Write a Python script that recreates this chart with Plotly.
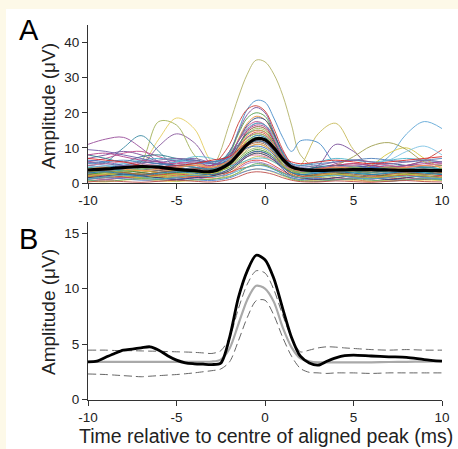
import plotly.graph_objects as go

W, H = 458, 449

# ---------------- Panel A data (individual aligned traces, μV) ----------------
x_a = [-10, -9, -8, -7, -6, -5, -4, -3, -2, -1.5, -1, -0.5, 0, 0.5, 1, 1.5, 2, 3, 4, 5, 6, 7, 8, 9, 10]

a01 = [3.0, 2.5, 3.2, 3.5, 3.0, 2.6, 3.0, 4.5, 17.0, 24.5, 31.0, 35.0, 34.5, 31.0, 25.0, 16.5, 8.0, 4.0, 3.2, 3.5, 3.0, 3.4, 2.8, 3.5, 3.0]
a02 = [1.5, 2.0, 2.5, 2.0, 1.5, 2.0, 2.5, 2.0, 3.5, 5.0, 6.5, 7.5, 7.2, 6.0, 4.5, 4.0, 5.0, 14.0, 17.0, 9.5, 4.5, 3.5, 4.0, 3.0, 2.5]
a03 = [6.0, 5.0, 4.5, 5.0, 5.5, 4.5, 4.0, 4.5, 9.0, 15.0, 21.0, 23.5, 23.0, 18.5, 13.0, 9.0, 12.0, 11.5, 5.5, 5.0, 4.5, 5.0, 4.0, 4.5, 4.0]
a04 = [4.0, 3.5, 3.0, 3.5, 4.0, 3.5, 3.0, 3.5, 6.0, 9.0, 12.0, 13.5, 13.0, 10.5, 7.0, 4.5, 3.5, 3.0, 3.5, 4.0, 4.5, 7.5, 14.0, 17.5, 15.5]
a05 = [3.0, 3.5, 4.0, 5.0, 10.5, 14.0, 11.5, 5.5, 6.0, 8.0, 10.5, 12.0, 11.5, 9.5, 6.5, 4.0, 3.0, 3.5, 4.0, 3.5, 3.0, 3.5, 4.0, 3.5, 3.0]
a06 = [2.5, 3.0, 3.5, 6.0, 17.5, 16.5, 8.0, 4.0, 5.0, 7.0, 9.5, 11.0, 10.5, 8.5, 6.0, 4.0, 3.0, 2.5, 3.0, 3.5, 3.0, 2.5, 3.0, 3.5, 3.0]
a07 = [2.0, 2.5, 3.0, 5.0, 12.5, 18.5, 15.5, 6.0, 4.0, 5.5, 7.5, 8.5, 8.0, 6.5, 4.5, 3.5, 3.0, 3.5, 4.0, 3.0, 2.5, 3.0, 3.5, 3.0, 2.5]
a08 = [5.0, 6.0, 10.0, 13.5, 9.0, 4.5, 4.0, 5.0, 6.5, 9.0, 12.0, 13.5, 13.0, 10.5, 7.0, 4.5, 3.5, 4.0, 3.5, 4.0, 4.5, 4.0, 3.5, 4.0, 3.5]
a09 = [11.0, 12.5, 13.0, 10.0, 6.0, 4.5, 5.0, 4.0, 7.0, 10.5, 15.0, 17.0, 16.5, 13.5, 9.0, 5.5, 4.0, 3.5, 4.0, 4.5, 4.0, 3.5, 3.0, 3.5, 4.0]
a10 = [4.0, 3.5, 4.5, 5.0, 4.0, 3.5, 4.0, 5.0, 11.0, 17.0, 21.0, 22.0, 20.5, 15.5, 9.5, 5.5, 4.0, 4.5, 5.0, 5.5, 5.0, 4.5, 5.0, 6.5, 9.5]
a11 = [7.0, 8.0, 9.0, 8.0, 6.0, 5.0, 4.5, 4.0, 9.0, 14.5, 19.5, 21.5, 20.0, 14.5, 8.5, 5.0, 3.5, 5.0, 11.0, 9.0, 4.5, 4.0, 3.5, 3.5, 4.0]
a12 = [3.0, 3.5, 3.0, 2.5, 3.0, 3.5, 3.0, 3.5, 8.5, 14.0, 18.5, 20.0, 19.0, 14.0, 8.0, 4.0, 2.5, 3.0, 2.5, 3.0, 3.5, 3.0, 2.5, 3.0, 3.5]
a13 = [2.0, 2.5, 3.0, 3.5, 3.0, 2.5, 2.0, 3.0, 7.0, 12.5, 17.0, 19.0, 18.0, 13.5, 8.0, 4.5, 3.0, 2.5, 3.0, 3.5, 3.0, 2.5, 3.0, 2.5, 2.0]
a14 = [5.0, 4.5, 5.0, 6.0, 5.5, 5.0, 4.5, 4.0, 7.5, 12.0, 16.5, 18.5, 18.0, 14.0, 8.5, 5.0, 4.0, 4.5, 5.0, 4.5, 5.0, 5.5, 5.0, 4.5, 5.0]
a15 = [6.0, 7.0, 8.5, 9.0, 7.5, 6.0, 5.5, 5.0, 8.0, 12.0, 16.0, 17.5, 16.5, 12.0, 7.0, 4.5, 3.5, 4.0, 5.5, 6.5, 6.0, 5.0, 4.5, 5.0, 5.5]
a16 = [4.0, 4.5, 5.5, 6.5, 7.0, 6.5, 6.0, 5.5, 8.5, 12.0, 15.5, 17.0, 16.5, 13.0, 8.5, 5.5, 5.0, 6.0, 7.0, 6.5, 6.0, 6.5, 7.0, 6.5, 6.0]
a17 = [3.5, 3.0, 2.5, 3.0, 3.5, 4.0, 3.5, 3.0, 6.5, 10.5, 14.5, 16.0, 15.5, 12.0, 7.0, 3.5, 2.5, 2.0, 2.5, 3.0, 2.5, 2.0, 2.5, 3.0, 2.5]
a18 = [1.5, 2.0, 2.5, 2.0, 1.5, 2.0, 2.5, 3.0, 6.0, 10.0, 14.0, 15.5, 15.0, 11.5, 7.0, 3.5, 2.0, 1.5, 2.0, 2.5, 2.0, 1.5, 2.0, 2.5, 2.0]
a19 = [8.0, 7.0, 6.0, 7.5, 8.0, 7.0, 6.5, 6.0, 8.0, 11.0, 14.0, 15.0, 14.5, 11.5, 7.5, 5.0, 4.0, 4.5, 5.0, 4.5, 4.0, 4.5, 5.0, 4.5, 4.0]
a20 = [2.5, 2.0, 1.5, 2.0, 2.5, 2.0, 1.5, 2.0, 5.5, 9.5, 13.0, 14.5, 14.0, 11.0, 6.5, 3.0, 2.0, 1.5, 1.0, 1.5, 2.0, 1.5, 1.0, 1.5, 2.0]
a21 = [9.5, 9.0, 8.0, 7.0, 6.0, 6.5, 7.0, 6.0, 7.5, 10.5, 13.0, 14.0, 13.5, 11.0, 7.0, 4.5, 3.5, 4.0, 4.5, 5.0, 4.5, 4.0, 5.0, 6.0, 5.5]
a22 = [3.0, 2.5, 3.0, 3.5, 3.0, 4.0, 5.5, 4.5, 6.0, 9.0, 12.0, 13.0, 12.5, 10.0, 6.5, 4.0, 3.0, 2.5, 3.0, 3.5, 5.0, 8.5, 10.0, 7.0, 4.0]
a23 = [2.0, 2.5, 3.0, 2.5, 2.0, 2.5, 3.0, 2.5, 5.0, 8.0, 10.5, 12.0, 11.5, 9.0, 5.5, 3.5, 3.0, 3.5, 5.0, 7.5, 10.5, 11.5, 9.5, 6.0, 5.0]
a24 = [4.5, 5.0, 5.5, 5.0, 4.5, 5.0, 6.0, 5.5, 7.0, 9.5, 11.5, 12.5, 12.0, 9.5, 6.5, 5.0, 4.5, 5.0, 4.5, 5.0, 5.5, 6.5, 9.0, 10.5, 8.0]
a25 = [3.5, 4.0, 4.5, 4.0, 3.5, 3.0, 3.5, 4.0, 6.0, 8.5, 11.0, 12.0, 11.5, 9.0, 6.0, 4.0, 3.5, 3.0, 3.5, 4.0, 3.5, 3.0, 3.5, 4.0, 3.5]
a26 = [1.0, 1.5, 2.0, 1.5, 1.0, 1.5, 2.0, 2.5, 5.0, 7.5, 10.0, 11.0, 10.5, 8.0, 5.0, 2.5, 1.5, 1.0, 1.5, 2.0, 1.5, 1.0, 1.5, 2.0, 1.5]
a27 = [6.5, 6.0, 5.0, 4.5, 5.0, 6.0, 6.5, 5.5, 6.5, 8.5, 10.0, 10.5, 10.0, 8.0, 5.5, 4.0, 3.5, 3.0, 3.5, 4.0, 4.5, 4.0, 3.5, 3.0, 3.5]
a28 = [2.5, 3.0, 3.5, 3.0, 2.5, 3.0, 3.5, 3.0, 4.5, 6.5, 8.5, 9.5, 9.0, 7.5, 5.0, 3.0, 2.5, 2.0, 2.5, 3.0, 2.5, 2.0, 2.5, 3.0, 2.5]
a29 = [1.5, 1.0, 1.5, 2.0, 1.5, 1.0, 1.5, 2.0, 4.0, 6.0, 8.0, 9.0, 8.5, 7.0, 4.5, 2.5, 1.5, 1.0, 1.5, 1.0, 0.5, 1.0, 1.5, 1.0, 1.5]
a30 = [5.0, 5.5, 6.0, 5.5, 5.0, 4.5, 5.0, 4.5, 5.0, 6.0, 7.5, 8.0, 7.5, 6.5, 5.0, 4.0, 3.5, 4.0, 4.5, 5.0, 5.5, 5.0, 4.5, 5.0, 5.5]
a31 = [3.0, 3.5, 4.0, 4.5, 5.0, 6.0, 7.5, 7.0, 5.0, 5.5, 6.5, 7.0, 7.0, 6.0, 4.5, 3.0, 2.5, 3.0, 3.5, 3.0, 2.5, 3.0, 3.5, 3.0, 2.5]
a32 = [0.5, 1.0, 1.5, 1.0, 0.5, 1.0, 1.5, 1.0, 2.5, 4.0, 5.5, 6.0, 5.5, 4.5, 3.0, 1.5, 1.0, 0.5, 1.0, 1.5, 1.0, 0.5, 1.0, 1.5, 1.0]
a33 = [2.0, 1.5, 2.0, 2.5, 2.0, 1.5, 2.0, 2.5, 3.0, 4.0, 4.5, 5.0, 5.0, 4.0, 3.0, 2.0, 1.5, 2.0, 2.5, 2.0, 1.5, 2.0, 2.5, 2.0, 1.5]
a34 = [0.5, 0.3, 0.8, 1.0, 0.6, 0.4, 0.8, 1.2, 2.0, 2.8, 3.5, 4.0, 3.8, 3.0, 2.0, 1.0, 0.6, 0.8, 1.0, 0.7, 0.5, 0.8, 1.0, 0.6, 0.8]
a35 = [1.0, 1.5, 1.2, 0.8, 1.0, 1.4, 1.0, 0.7, 1.5, 2.5, 3.5, 4.0, 3.8, 3.2, 2.2, 1.5, 1.0, 1.3, 0.9, 1.2, 1.5, 1.1, 0.8, 1.2, 1.0]
a36 = [2.0, 2.4, 1.8, 1.5, 2.2, 2.6, 2.0, 1.6, 3.0, 4.5, 6.0, 6.5, 6.2, 5.0, 3.5, 2.2, 1.6, 2.0, 2.4, 1.8, 1.4, 1.8, 2.2, 1.8, 2.2]
a37 = [0.8, 0.5, 0.9, 1.3, 1.0, 0.6, 0.9, 1.1, 1.8, 3.0, 4.5, 5.5, 5.2, 4.0, 2.5, 1.2, 0.7, 0.5, 0.9, 1.2, 0.8, 0.5, 0.9, 1.2, 0.8]
a38 = [4.5, 4.0, 3.5, 4.0, 4.5, 5.0, 4.5, 4.0, 5.5, 8.0, 11.5, 13.0, 12.5, 10.0, 6.5, 4.0, 3.0, 3.5, 4.0, 3.5, 3.0, 3.5, 4.0, 4.5, 4.0]
a39 = [3.0, 3.5, 3.0, 2.5, 3.0, 3.5, 4.0, 3.5, 5.5, 8.0, 10.5, 11.5, 11.0, 8.5, 5.0, 3.0, 2.0, 2.5, 3.0, 2.5, 2.0, 2.5, 3.0, 2.5, 3.0]
a40 = [1.5, 2.0, 2.5, 2.0, 1.5, 1.0, 1.5, 2.0, 3.5, 5.5, 7.5, 8.5, 8.0, 6.5, 4.0, 2.0, 1.5, 1.0, 1.5, 2.0, 1.5, 1.0, 1.5, 2.0, 1.5]
a41 = [8.0, 8.5, 7.5, 6.5, 6.0, 5.5, 6.0, 5.0, 8.0, 12.0, 15.0, 16.5, 16.0, 12.5, 7.5, 4.5, 3.5, 4.0, 5.0, 5.5, 5.0, 4.5, 5.0, 5.5, 6.0]
a42 = [2.0, 2.5, 2.0, 1.5, 2.0, 2.5, 3.0, 2.5, 5.0, 8.5, 12.5, 14.0, 13.5, 10.0, 5.5, 2.5, 1.5, 2.0, 2.5, 2.0, 1.5, 2.0, 2.5, 2.0, 1.5]
a43 = [5.5, 6.0, 6.5, 6.0, 5.5, 5.0, 5.5, 6.0, 7.0, 9.0, 11.0, 12.0, 11.5, 9.0, 6.5, 5.5, 5.0, 5.5, 6.0, 6.5, 7.0, 6.5, 6.0, 6.5, 7.0]
a44 = [0.3, 0.6, 0.4, 0.2, 0.5, 0.8, 0.5, 0.3, 1.0, 1.8, 2.8, 3.2, 3.0, 2.4, 1.5, 0.8, 0.4, 0.3, 0.6, 0.4, 0.2, 0.5, 0.7, 0.4, 0.3]
a45 = [3.5, 3.0, 3.5, 4.0, 4.5, 4.0, 3.5, 3.5, 5.0, 7.0, 9.0, 10.0, 9.5, 7.5, 5.0, 3.5, 3.0, 3.5, 4.0, 4.5, 4.0, 4.5, 4.0, 3.5, 4.0]
a46 = [6.0, 5.5, 5.0, 5.5, 6.5, 7.0, 6.5, 5.5, 6.0, 8.5, 11.0, 12.5, 12.0, 9.5, 6.5, 5.0, 4.5, 5.0, 6.0, 6.5, 6.0, 5.5, 6.0, 6.5, 6.0]
a47 = [1.2, 1.8, 2.2, 1.8, 1.2, 1.6, 2.2, 1.8, 2.5, 3.5, 4.5, 5.0, 4.8, 3.8, 2.8, 2.0, 1.5, 1.8, 2.2, 1.6, 1.2, 1.6, 2.0, 1.6, 1.2]
a48 = [4.0, 4.5, 4.0, 3.5, 4.0, 4.5, 5.0, 4.5, 6.5, 9.5, 13.5, 15.0, 14.5, 11.0, 6.5, 4.0, 3.5, 4.0, 4.5, 4.0, 3.5, 4.0, 4.5, 5.0, 4.5]
a49 = [2.8, 3.2, 2.6, 2.2, 2.8, 3.2, 2.8, 2.4, 4.0, 6.0, 8.0, 9.0, 8.6, 7.0, 4.5, 3.0, 2.4, 2.8, 3.2, 2.8, 2.4, 2.8, 3.2, 2.8, 2.4]
a50 = [7.0, 6.5, 6.0, 5.0, 4.5, 5.0, 5.5, 6.5, 7.5, 9.5, 11.5, 12.5, 12.0, 9.5, 7.0, 6.0, 5.5, 6.0, 6.5, 6.0, 5.5, 6.0, 6.5, 7.0, 7.5]

colors_a = [
    "#b5b56b", "#c9bc5c", "#4a8fcb", "#62a9d8", "#8a5a9e", "#a3b35a", "#e6cf62",
    "#3d8ca5", "#9a4f9c", "#cc3f3a", "#7b4f9a", "#55a04c", "#e8913a", "#2e4a86",
    "#c04a8a", "#4bb4cc", "#8c4a30", "#9bc25a", "#2a7a8c", "#d9534f", "#6f5aa8",
    "#d8c840", "#a0a050", "#7fc4e6", "#707070", "#f0a050", "#3a6fc0", "#3c8c3c",
    "#b03030", "#e07aa0", "#5fc0d0", "#9a70c0", "#d07020", "#f0d060", "#5080d0",
    "#e04040", "#60b060", "#40a0a0", "#a06040", "#304080", "#b0408c", "#b8c840",
    "#4f81bd", "#c0504d", "#9bbb59", "#8064a2", "#4bacc6", "#f79646", "#1f77b4", "#d62728",
]

mean_a = [3.7, 4.0, 4.4, 4.7, 4.5, 3.9, 3.5, 3.3, 5.6, 8.2, 11.0, 12.6, 12.3, 10.0, 6.8, 4.6, 3.9, 3.6, 3.7, 3.8, 3.8, 3.7, 3.6, 3.6, 3.5]

# ---------------- Panel B data (summary curves, μV) ----------------
x_b = [-10, -9.5, -9, -8.5, -8, -7.5, -7, -6.5, -6, -5.5, -5, -4.5, -4, -3.5, -3, -2.5,
       -2, -1.5, -1, -0.5, 0, 0.5, 1, 1.5, 2, 2.5, 3, 3.5, 4, 4.5, 5, 6, 7, 8, 9, 10]
mean_b = [3.40, 3.45, 3.80, 4.15, 4.45, 4.55, 4.65, 4.75, 4.45, 3.95, 3.55, 3.30, 3.22, 3.18, 3.15, 3.28,
          5.6, 9.2, 11.6, 13.0, 12.6, 10.9, 8.2, 5.6, 3.9, 3.3, 3.1, 3.45, 3.75, 3.95, 4.0, 3.92, 3.85, 3.8, 3.6, 3.45]
median_b = [3.40, 3.40, 3.40, 3.40, 3.40, 3.40, 3.40, 3.40, 3.40, 3.40, 3.40, 3.40, 3.40, 3.40, 3.42, 3.60,
            4.6, 6.8, 9.0, 10.25, 10.0, 8.8, 6.5, 4.7, 3.7, 3.45, 3.35, 3.35, 3.35, 3.35, 3.35, 3.35, 3.38, 3.4, 3.42, 3.45]
upper_b = [4.45, 4.45, 4.45, 4.42, 4.40, 4.40, 4.38, 4.36, 4.35, 4.32, 4.30, 4.28, 4.25, 4.20, 4.15, 4.40,
           5.6, 8.2, 10.4, 11.6, 11.4, 9.9, 7.6, 5.6, 4.3, 4.45, 4.65, 4.75, 4.72, 4.65, 4.6, 4.5, 4.45, 4.5, 4.45, 4.45]
lower_b = [2.30, 2.28, 2.25, 2.20, 2.15, 2.10, 2.05, 2.10, 2.15, 2.20, 2.25, 2.32, 2.40, 2.50, 2.60, 2.75,
           3.4, 5.3, 7.4, 8.9, 8.95, 7.6, 5.6, 3.9, 2.8, 2.45, 2.4, 2.35, 2.4, 2.4, 2.4, 2.35, 2.4, 2.4, 2.4, 2.4]

x_ticks = [-10, -5, 0, 5, 10]
x_ticktext = ["-10", "-5", "0", "5", "10"]
y_ticks_a = [0, 10, 20, 30, 40]
y_ticks_b = [0, 5, 10, 15]

series_a = [a01, a02, a03, a04, a05, a06, a07, a08, a09, a10, a11, a12, a13, a14,
            a15, a16, a17, a18, a19, a20, a21, a22, a23, a24, a25, a26, a27, a28,
            a29, a30, a31, a32, a33, a34, a35, a36, a37, a38, a39, a40, a41, a42,
            a43, a44, a45, a46, a47, a48, a49, a50]

FONT = "Arial, Liberation Sans, Helvetica, sans-serif"

fig = go.Figure()

for i in range(len(series_a)):
    fig.add_trace(go.Scatter(
        x=x_a, y=series_a[i], mode="lines", xaxis="x", yaxis="y",
        line=dict(color=colors_a[i % len(colors_a)], width=1, shape="spline", smoothing=1.0),
        opacity=0.9, showlegend=False, hoverinfo="skip"))

fig.add_trace(go.Scatter(
    x=x_a, y=mean_a, mode="lines", xaxis="x", yaxis="y",
    line=dict(color="#000000", width=3.2, shape="spline", smoothing=1.0),
    showlegend=False))

# Panel B
fig.add_trace(go.Scatter(
    x=x_b, y=lower_b, mode="lines", xaxis="x2", yaxis="y2",
    line=dict(color="#666666", width=1, dash="8px,4px", shape="spline", smoothing=0.8),
    showlegend=False))
fig.add_trace(go.Scatter(
    x=x_b, y=upper_b, mode="lines", xaxis="x2", yaxis="y2",
    line=dict(color="#666666", width=1, dash="8px,4px", shape="spline", smoothing=0.8),
    showlegend=False))
fig.add_trace(go.Scatter(
    x=x_b, y=median_b, mode="lines", xaxis="x2", yaxis="y2",
    line=dict(color="#a9a9a9", width=2.2, shape="spline", smoothing=0.8),
    showlegend=False))
fig.add_trace(go.Scatter(
    x=x_b, y=mean_b, mode="lines", xaxis="x2", yaxis="y2",
    line=dict(color="#000000", width=2.8, shape="spline", smoothing=0.8),
    showlegend=False))

def px_x(p):
    return p / W

def px_y(p):
    return 1 - p / H

xdom = [px_x(88), px_x(442)]
axis_common = dict(
    showline=True, linecolor="#333333", linewidth=1,
    ticks="outside", ticklen=5, tickwidth=1, tickcolor="#333333",
    showgrid=False, zeroline=False, automargin=False,
    tickfont=dict(family=FONT, size=13.5, color="#222222"),
)

fig.update_layout(
    width=W, height=H,
    margin=dict(l=0, r=0, t=0, b=0, pad=0),
    paper_bgcolor="#fdf9e8",
    plot_bgcolor="#ffffff",
    showlegend=False,
    xaxis=dict(domain=xdom, range=[-10, 10], anchor="y", tickvals=x_ticks, ticktext=x_ticktext, **axis_common),
    yaxis=dict(domain=[px_y(183), px_y(25)], range=[0, 45], anchor="x", tickvals=y_ticks_a, **axis_common),
    xaxis2=dict(domain=xdom, range=[-10, 10], anchor="y2", tickvals=x_ticks, ticktext=x_ticktext, **axis_common),
    yaxis2=dict(domain=[px_y(399.5), px_y(222)], range=[0, 16], anchor="x2", tickvals=y_ticks_b, **axis_common),
    shapes=[dict(type="rect", xref="paper", yref="paper", layer="below",
                 x0=px_x(6), x1=1.0, y0=0.0, y1=px_y(9),
                 fillcolor="#ffffff", line=dict(width=0))],
    annotations=[
        dict(text="A", xref="paper", yref="paper", x=px_x(29), y=px_y(30),
             xanchor="center", yanchor="middle", showarrow=False,
             font=dict(family=FONT, size=29, color="#000000")),
        dict(text="B", xref="paper", yref="paper", x=px_x(28), y=px_y(239),
             xanchor="center", yanchor="middle", showarrow=False,
             font=dict(family=FONT, size=29, color="#000000")),
        dict(text="Amplitude (μV)", xref="paper", yref="paper", x=px_x(48), y=px_y(106),
             xanchor="center", yanchor="middle", textangle=-90, showarrow=False,
             font=dict(family=FONT, size=19, color="#222222")),
        dict(text="Amplitude (μV)", xref="paper", yref="paper", x=px_x(48), y=px_y(312),
             xanchor="center", yanchor="middle", textangle=-90, showarrow=False,
             font=dict(family=FONT, size=19, color="#222222")),
        dict(text="Time relative to centre of aligned peak (ms)", xref="paper", yref="paper",
             x=px_x(266), y=px_y(436), xanchor="center", yanchor="middle", showarrow=False,
             font=dict(family=FONT, size=19.5, color="#222222")),
    ],
)

fig.write_html(
    "out.html",
    config={"displayModeBar": False},
    post_script="document.body.style.margin='0px';document.body.style.overflow='hidden';",
)
